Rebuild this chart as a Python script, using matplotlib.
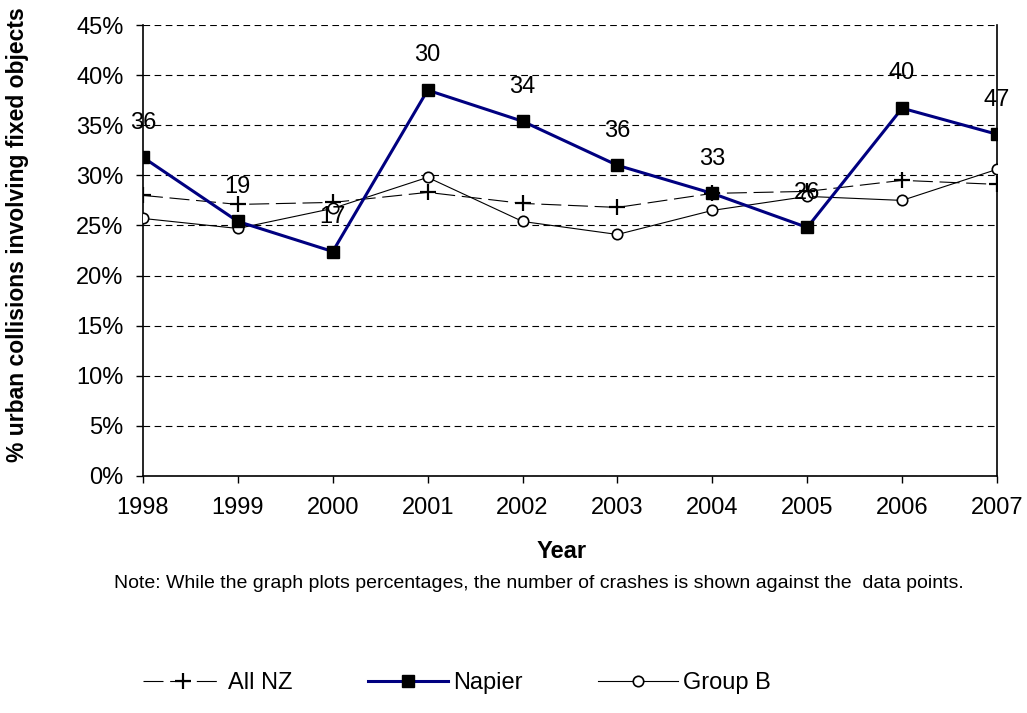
import matplotlib.pyplot as plt
from matplotlib.ticker import FuncFormatter

plt.rcParams['font.family'] = ['Liberation Sans', 'DejaVu Sans']

years = [1998, 1999, 2000, 2001, 2002, 2003, 2004, 2005, 2006, 2007]
all_nz = [28.0, 27.1, 27.3, 28.3, 27.2, 26.8, 28.2, 28.4, 29.5, 29.1]
napier = [31.8, 25.4, 22.4, 38.5, 35.4, 31.0, 28.2, 24.8, 36.7, 34.1]
group_b = [25.7, 24.7, 26.7, 29.8, 25.4, 24.1, 26.5, 27.9, 27.5, 30.6]
napier_crashes = [36, 19, 17, 30, 34, 36, 33, 26, 40, 47]

fig = plt.figure(figsize=(10.27, 7.13), dpi=100)
ax = fig.add_axes([0.1392, 0.3324, 0.8316, 0.6325])

# all NZ - thin long-dash line with plus markers
ax.plot(years, all_nz, color='black', lw=0.8, linestyle=(0, (18, 6)),
        marker='+', markersize=11, markeredgewidth=1.6, label='All NZ', zorder=3)
ax.plot(years, napier, color='#000080', lw=2.2, marker='s', markersize=8.5,
        markerfacecolor='black', markeredgecolor='black', label='Napier', zorder=4)
ax.plot(years, group_b, color='black', lw=0.8, marker='o', markersize=7.5,
        markerfacecolor='white', markeredgecolor='black', markeredgewidth=1.2,
        label='Group B', zorder=3)

# crash counts above napier points
for x, y, n in zip(years, napier, napier_crashes):
    ax.annotate(str(n), (x, y), xytext=(0, 25), textcoords='offset points',
                ha='center', va='center', fontsize=17, zorder=5)

ax.set_xlim(1998, 2007)
ax.set_ylim(0, 45)
ax.set_xticks(years)
ax.set_yticks(range(0, 46, 5))
ax.yaxis.set_major_formatter(FuncFormatter(lambda v, p: '%d%%' % v))
ax.tick_params(labelsize=17, direction='out', length=5, width=1)
ax.tick_params(axis='x', pad=10)
ax.tick_params(axis='y', pad=9)
ax.grid(axis='y', color='black', linestyle=(0, (6, 4)), lw=0.8)
ax.spines['top'].set_visible(False)
for s in ['left', 'right', 'bottom']:
    ax.spines[s].set_linewidth(1.2)
ax.set_axisbelow(True)

fig.text(18 / 1027, 1 - 235 / 713, '% urban collisions involving fixed objects',
         fontsize=16.5, fontweight='bold', rotation=90, ha='center', va='center')
fig.text(0.547, 1 - 552 / 713, 'Year', fontsize=17, fontweight='bold',
         ha='center', va='center')
fig.text(0.525, 1 - 583 / 713,
         'Note: While the graph plots percentages, the number of crashes is shown against the  data points.',
         fontsize=14, ha='center', va='center')

fig.legend(loc='center', bbox_to_anchor=(0.445, 1 - 683 / 713), ncol=3,
           frameon=False, fontsize=17, handlelength=3.4, columnspacing=3.2,
           handletextpad=0.2)

fig.savefig('out.png', dpi=100)
